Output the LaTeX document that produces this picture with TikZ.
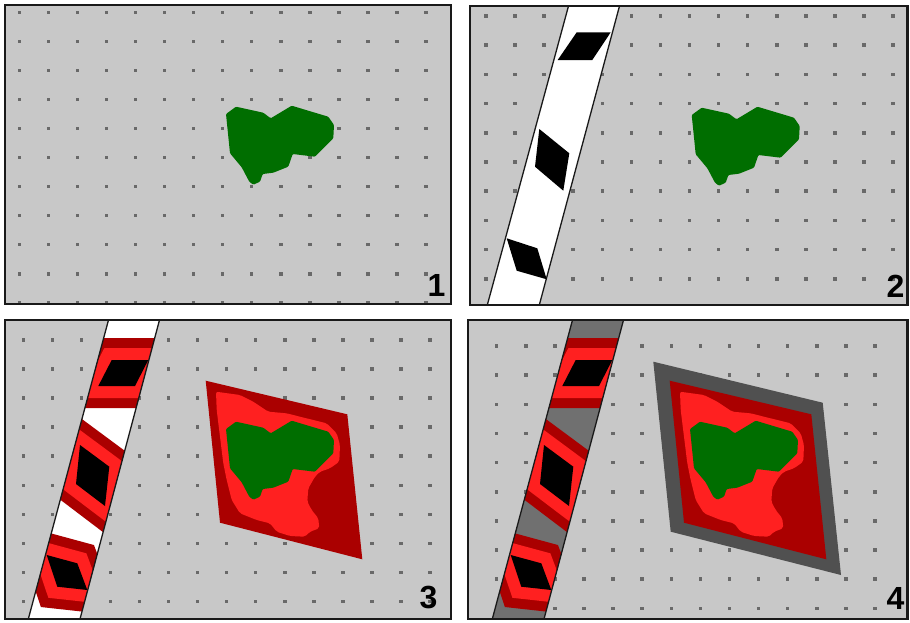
\documentclass[tikz,border=0pt]{standalone}
\usepackage{fontspec}
\setmainfont{Liberation Sans}
\definecolor{panelbg}{RGB}{200,200,200}
\definecolor{dotc}{RGB}{105,105,105}
\definecolor{framec}{RGB}{25,25,25}
\definecolor{grn}{RGB}{0,110,0}
\definecolor{dred}{RGB}{170,0,0}
\definecolor{bred}{RGB}{255,32,32}
\definecolor{dgray}{RGB}{80,80,80}
\definecolor{bandgray}{RGB}{112,112,112}
\tikzset{
  panel/.style={fill=panelbg, draw=framec, line width=2.5pt},
  bandline/.style={draw=framec, line width=1.3pt},
  numlabel/.style={anchor=base east, inner sep=0pt, font=\fontsize{32}{32}\selectfont\bfseries, text=black},
  dotsq/.style={fill=dotc}
}
\newcommand\dotgrid[6]{% x0, dx, nx, y0, dy, ny
  \foreach \i in {0,...,#3}{
    \foreach \j in {0,...,#6}{
      \fill[dotsq] ({#1+#2*\i-1.75},{#4+#5*\j-1.75}) rectangle ++(3.5,3.5);
    }
  }
}
\newcommand\greenshape[2]{%
  \fill[grn, rounded corners=1pt, shift={(#1,#2)}] (226,114) -- (236,106.7) -- (263.3,112.7) -- (270.7,118.3) -- (291.7,105.7) -- (328.3,116.7) -- (334,125) -- (333.3,138.3) -- (315,156.7) -- (292.7,154) -- (288.3,166.7) -- (273.3,172.7) -- (262.7,174) -- (260,181.7) -- (253.3,184.7) -- (249.3,181.7) -- (241.7,167.3) -- (230,153.3) -- cycle;
}
\newcommand\bandthree[1]{%
  \fill[#1] (108.5,320) -- (159.5,320) -- (80,619) -- (28.3,619) -- cycle;
  \begin{scope}
    \clip (108.5,320) -- (159.5,320) -- (80,619) -- (28.3,619) -- cycle;
    \foreach \w/\c in {44/dred,24/bred}{
      \filldraw[color=\c, line width=\w pt, line join=miter, miter limit=10] (111.7,360) -- (148.3,360) -- (135,386) -- (98.3,386) -- cycle;
      \filldraw[color=\c, line width=\w pt, line join=miter, miter limit=10] (80,445) -- (109.3,466.7) -- (105,506) -- (76,484) -- cycle;
      \filldraw[color=\c, line width=\w pt, line join=miter, miter limit=10] (46.7,555) -- (77.3,563.3) -- (87.3,590) -- (57.3,586.7) -- cycle;
    }
    \fill[black] (111.7,360) -- (148.3,360) -- (135,386) -- (98.3,386) -- cycle;
    \fill[black] (80,445) -- (109.3,466.7) -- (105,506) -- (76,484) -- cycle;
    \fill[black] (46.7,555) -- (77.3,563.3) -- (87.3,590) -- (57.3,586.7) -- cycle;
  \end{scope}
  \draw[bandline] (108.5,320) -- (28.3,619) (159.5,320) -- (80,619);
}
\newcommand\redzone{%
  \fill[dred] (205.7,380.7) -- (347.3,414.3) -- (362.3,559.3) -- (220,522.7) -- cycle;
  \fill[bred, rounded corners=2pt] (216,391.7) -- (240,395) -- (253.3,401.7) -- (268.3,411.7) -- (286.7,413.3) -- (300,416.7) -- (326.7,423.3) -- (336.7,433.3) -- (340,445) -- (339.3,461.7) -- (330,468.3) -- (320,471.7) -- (315,476.7) -- (308.3,488.3) -- (307.3,501.7) -- (311.7,510) -- (318.3,518.3) -- (319.3,528.3) -- (310,531.7) -- (305,536.7) -- (290,536) -- (276.7,531.7) -- (270,523.3) -- (256.7,520) -- (240,513.3) -- (231.7,500) -- (226.7,480) -- (223.3,463.3) -- (220,436.7) -- (216.7,410) -- cycle;
  \greenshape{0}{315}
}
\begin{document}
\begin{tikzpicture}[x=1pt,y=-1pt]
\useasboundingbox (0,0) rectangle (910,622);
\fill[white] (0,0) rectangle (910,622);

% ---------- Panel 1 ----------
\fill[panelbg] (5,5) rectangle (451,304);
\dotgrid{19.3}{29.05}{14}{12.3}{29.05}{10}
\greenshape{0}{0}
\draw[panel, fill=none] (5,5) rectangle (451,304);
\node[numlabel] (n1) at (445.5,296.7) {1};

% ---------- Panel 2 ----------
\fill[panelbg] (470,6) rectangle (907.5,305);
\dotgrid{486}{29.08}{14}{16}{29.2}{9}
\fill[white] (568.5,6) -- (619.5,6) -- (539.3,305) -- (487.3,305) -- cycle;
\draw[bandline] (568.5,6) -- (487.3,305) (619.5,6) -- (539.3,305);
\fill[black] (576.7,32.3) -- (610.7,32.3) -- (592.3,60) -- (557.7,60) -- cycle;
\fill[black] (539.3,129) -- (569.3,153.3) -- (563.3,190.7) -- (535,166.7) -- cycle;
\fill[black] (506.7,238.3) -- (537.3,248.3) -- (546.7,279.3) -- (516.7,270.7) -- cycle;
\greenshape{465.7}{1}
\draw[panel, fill=none] (470,6) rectangle (907.5,305);
\node[numlabel] (n2) at (904.5,297.3) {2};

% ---------- Panel 3 ----------
\fill[panelbg] (5,320) rectangle (451,619);
\dotgrid{23.3}{29.05}{14}{340}{29.05}{9}
\bandthree{white}
\redzone
\draw[panel, fill=none] (5,320) rectangle (451,619);
\node[numlabel] (n3) at (437.5,608.3) {3};

% ---------- Panel 4 ----------
\fill[panelbg] (468,320) rectangle (907.5,619);
\dotgrid{496.7}{29.1}{13}{346}{29.15}{9}
\begin{scope}[shift={(464,0)}]
  \bandthree{bandgray}
\end{scope}
\fill[dgray] (653.3,361.7) -- (822.7,402.7) -- (841,575) -- (670.7,531.7) -- cycle;
\begin{scope}[shift={(464,0)}]
  \redzone
\end{scope}
\draw[panel, fill=none] (468,320) rectangle (907.5,619);
\node[numlabel] (n4) at (904.5,609) {4};
\end{tikzpicture}
\end{document}
